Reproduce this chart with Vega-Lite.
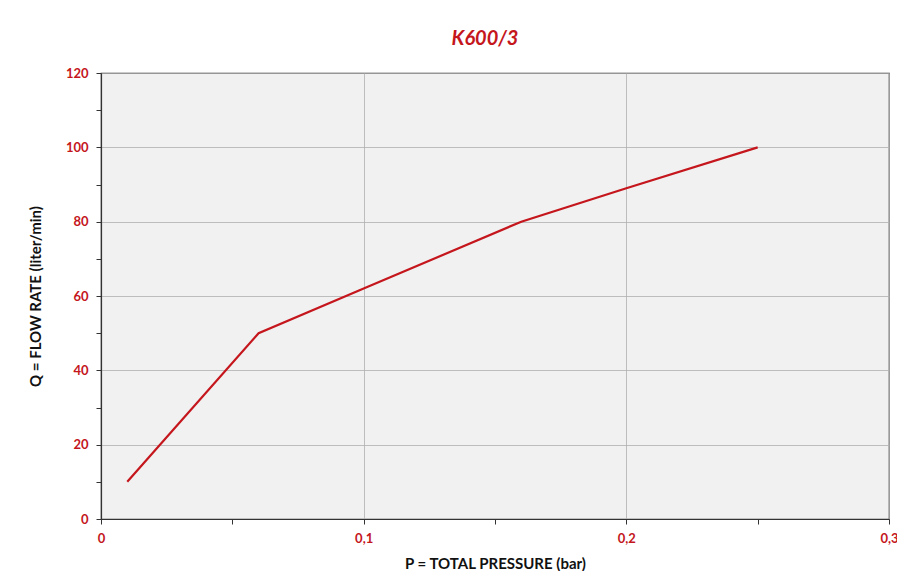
{
  "$schema": "https://vega.github.io/schema/vega-lite/v6.json",
  "width": 788,
  "height": 446,
  "autosize": "none",
  "padding": {"left": 101, "top": 73, "right": 8, "bottom": 52},
  "background": "#ffffff",
  "title": {
    "text": "K600/3",
    "color": "#c4161c",
    "font": "Lato",
    "fontSize": 20,
    "fontWeight": "bold",
    "fontStyle": "italic",
    "anchor": "middle",
    "dx": -10,
    "offset": 18
  },
  "config": {
    "view": {"fill": "#f1f1f1", "stroke": "#333333", "strokeWidth": 1.2},
    "axis": {
      "labelFont": "Lato",
      "titleFont": "Lato",
      "labelColor": "#c4161c",
      "labelFontWeight": "bold",
      "labelFontSize": 13,
      "titleFontSize": 15,
      "titleFontWeight": "bold",
      "titleColor": "#111111",
      "domainColor": "#333333",
      "domainWidth": 1.2,
      "tickColor": "#333333",
      "gridColor": "#b0b0b0",
      "gridWidth": 0.8
    }
  },
  "data": {
    "values": [
      {"p": 0.01, "q": 10},
      {"p": 0.06, "q": 50},
      {"p": 0.1, "q": 62},
      {"p": 0.16, "q": 80},
      {"p": 0.2, "q": 89},
      {"p": 0.25, "q": 100}
    ]
  },
  "mark": {"type": "line", "color": "#c4161c", "strokeWidth": 2.2},
  "encoding": {
    "x": {
      "field": "p",
      "type": "quantitative",
      "scale": {"domain": [0, 0.3], "nice": false, "zero": true},
      "axis": {
        "title": "P = TOTAL PRESSURE (bar)",
        "titlePadding": 11,
        "values": [0, 0.05, 0.1, 0.15, 0.2, 0.25, 0.3],
        "labelExpr": "abs(datum.value*10 - round(datum.value*10)) > 0.01 ? '' : (datum.value == 0 ? '0' : replace(format(datum.value, '.1f'), '.', ','))",
        "labelPadding": 8,
        "tickSize": 5,
        "gridOpacity": {"condition": {"test": "abs(datum.value*10 - round(datum.value*10)) > 0.01", "value": 0}, "value": 1},
        "labelOverlap": false,
        "labelFlush": false
      }
    },
    "y": {
      "field": "q",
      "type": "quantitative",
      "scale": {"domain": [0, 120], "nice": false},
      "axis": {
        "title": "Q = FLOW RATE (liter/min)",
        "titlePadding": 22,
        "values": [0, 10, 20, 30, 40, 50, 60, 70, 80, 90, 100, 110, 120],
        "labelExpr": "datum.value % 20 == 0 ? datum.label : ''",
        "labelPadding": 8,
        "tickSize": 5,
        "gridOpacity": {"condition": {"test": "datum.value % 20 != 0", "value": 0}, "value": 1},
        "labelOverlap": false
      }
    }
  }
}
